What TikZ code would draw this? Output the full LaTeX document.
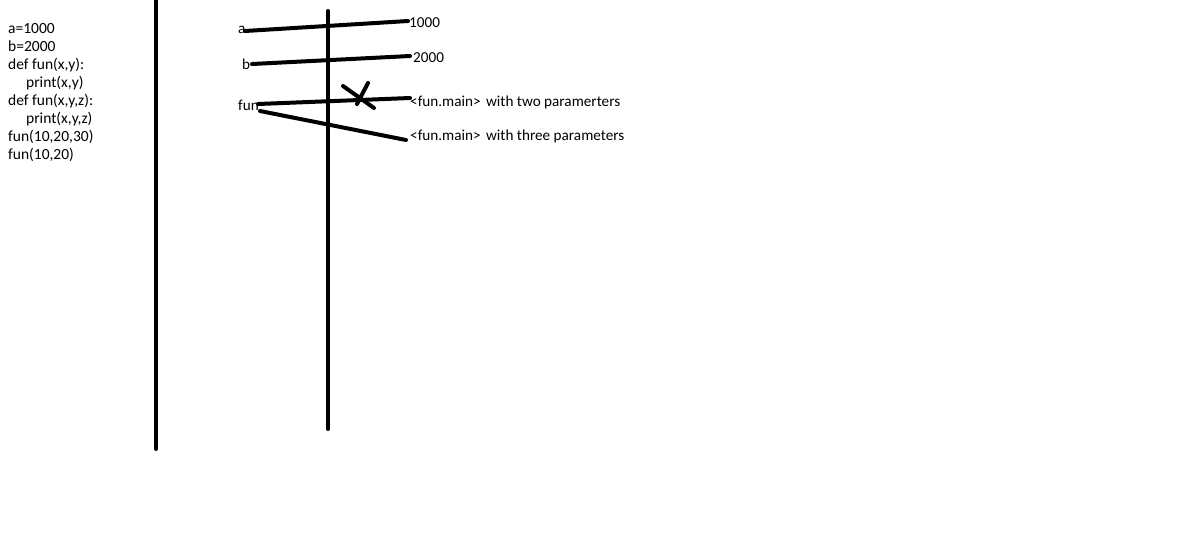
\documentclass[tikz,border=0pt]{standalone}
\usepackage{fontspec}
\setmainfont{Carlito}
\begin{document}
\begin{tikzpicture}[x=1pt,y=-1pt,
  txt/.style={anchor=west,inner sep=0pt,font=\fontsize{15.2}{18}\selectfont},
  code/.style={anchor=north west,inner sep=0pt,align=left,font=\fontsize{15.5}{18}\selectfont},
  stroke/.style={line width=4pt,line cap=round}]
\useasboundingbox (0,0) rectangle (1191,542);
\node[code] (codeblk) at (8,23) {a=1000\\b=2000\\def fun(x,y):\\\hspace*{18pt}print(x,y)\\def fun(x,y,z):\\\hspace*{18pt}print(x,y,z)\\fun(10,20,30)\\fun(10,20)};
\coordinate (v1t) at (156,0); \coordinate (v1b) at (156,449);
\coordinate (v2t) at (328,11); \coordinate (v2b) at (328,429);
\draw[stroke] (v1t) -- (v1b);
\draw[stroke] (v2t) -- (v2b);
\node[txt] (la) at (238,30) {a};
\node[txt] (va) at (409,23) {1000};
\node[txt] (lb) at (242,64) {b};
\node[txt] (vb) at (413,58) {2000};
\node[txt] (lfun) at (238,105) {fun};
\node[txt] (vf2) at (410,102) {<fun.main>\hspace{2pt} with two paramerters};
\node[txt] (vf3) at (410,136) {<fun.main>\hspace{2pt} with three parameters};
\coordinate (a1) at (245,31); \coordinate (a2) at (408,21);
\coordinate (b1) at (252,64); \coordinate (b2) at (410,56);
\coordinate (f1) at (258,104); \coordinate (f2) at (410,98);
\coordinate (g1) at (260,111); \coordinate (g2) at (406,140);
\draw[stroke] (a1) -- (a2);
\draw[stroke] (b1) -- (b2);
\draw[stroke] (f1) -- (f2);
\draw[stroke] (g1) -- (g2);
\coordinate (x1) at (343,86); \coordinate (x2) at (374,108);
\coordinate (x3) at (368,83); \coordinate (x4) at (357,104);
\draw[stroke] (x1) -- (x2);
\draw[stroke] (x3) -- (x4);
\end{tikzpicture}
\end{document}
